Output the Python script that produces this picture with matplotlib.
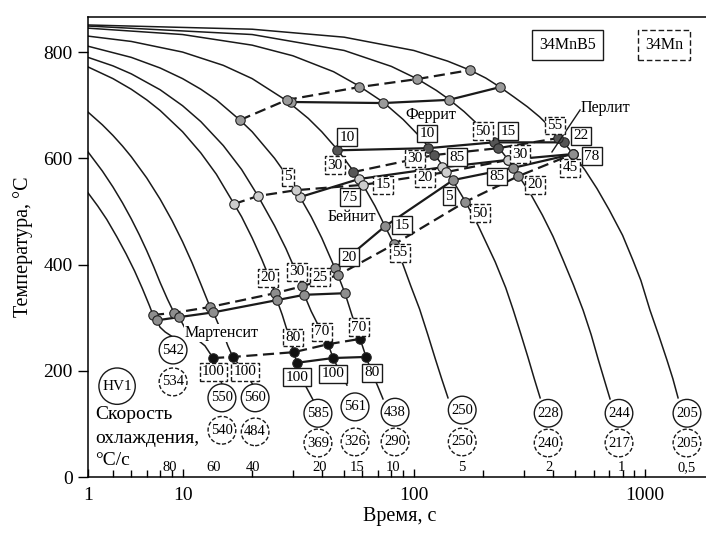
import matplotlib
matplotlib.use("Agg")
import matplotlib.pyplot as plt
from matplotlib.ticker import FixedLocator, NullFormatter

plt.rcParams["font.family"] = ["Liberation Serif", "DejaVu Serif"]

# cooling curves: time (s) / temperature (C)
t05 = [3.9, 20, 50, 100, 140, 175, 205, 236, 270, 310, 350, 400, 450, 488, 550, 620, 700, 800, 887, 960, 1051, 1150, 1245, 1320, 1390]
T05 = [851, 843, 828, 803, 783, 766, 751, 734, 716, 697, 678, 653, 628, 608, 578, 543, 503, 455, 408, 370, 314, 265, 220, 185, 149]
t1 = [3.9, 20, 50, 80, 104, 125, 142, 165, 190, 222, 240, 256, 269, 282, 320, 360, 400, 441, 490, 540, 585, 627, 670, 706]
T1 = [849, 833, 803, 773, 749, 728, 711, 688, 663, 631, 613, 597, 584, 569, 533, 493, 453, 410, 362, 314, 268, 222, 180, 147]
t2 = [3.9, 10, 20, 30, 45, 58, 73.6, 90, 105, 115, 122, 133, 139, 148, 167, 190, 225, 250, 269, 290, 312, 332, 352]
T2 = [845, 833, 813, 793, 763, 736, 706, 673, 643, 623, 609, 587, 575, 557, 519, 473, 405, 356, 315, 270, 225, 185, 149]
t5 = [3.9, 6, 10, 15, 20, 28.3, 35, 40, 46.6, 54.6, 58, 60.3, 68, 75.1, 82.2, 89.8, 97, 106, 115, 124, 132, 140.6]
T5 = [830, 820, 800, 775, 750, 708, 675, 650, 617, 577, 561, 550, 510, 472, 438, 400, 360, 316, 268, 222, 185, 149]
t10 = [3.9, 6, 8, 10, 12, 14, 17.7, 20, 25, 28.3, 31.0, 32.2, 36, 40, 45.6, 47.0, 50.4, 54, 58.6, 62.2, 66, 70, 73.6]
T10 = [811, 790, 770, 750, 730, 710, 672, 650, 600, 567, 540, 527, 490, 450, 393, 380, 346, 305, 260, 226, 196, 170, 147]
t15 = [3.9, 5, 6, 8, 10, 12, 15, 18, 21.2, 25, 28, 30, 32.9, 33.6, 36, 39, 42.6, 44.8, 48, 51.4]
T15 = [790, 774, 759, 729, 699, 669, 624, 579, 529, 473, 430, 400, 359, 343, 312, 282, 250, 224, 197, 173]
t20 = [3.9, 5, 6, 7, 8, 10, 12, 14, 16.7, 18, 20, 22, 24, 25.1, 25.6, 27, 28.7, 30.3, 31.2, 33.9, 36.7]
T20 = [772, 750, 730, 710, 690, 650, 610, 570, 514, 490, 450, 410, 370, 346, 333, 305, 268, 235, 215, 173, 145]
t40 = [3.9, 4.5, 5, 5.5, 6, 7, 8, 9, 10, 11, 12, 13.15, 13.6, 14.2, 15.1, 15.7, 16.5, 18.6, 20.0]
T40 = [687, 663, 643, 623, 603, 563, 523, 483, 443, 403, 363, 320, 310, 290, 267, 247, 226, 198, 176]
t60 = [3.9, 4.5, 5, 5.5, 6, 6.5, 7, 7.5, 8, 8.6, 9.19, 9.66, 10.25, 11.33, 12.5, 13.55, 14.2, 14.8]
T60 = [612, 576, 546, 516, 486, 456, 426, 396, 366, 335, 309, 301, 280, 262, 247, 224, 198, 175]
t80 = [3.9, 4.3, 4.7, 5.2, 5.7, 6.2, 6.7, 7.2, 7.45, 7.76, 7.99, 8.41, 8.83, 9.1]
T80 = [535, 510, 485, 452, 420, 388, 355, 322, 305, 295, 282, 273, 267, 263]

# transformation lines (S = 34MnB5 solid, D = 34Mn dashed)
DF_t = [17.7, 28.3, 58.0, 103, 175]
DF_T = [672, 710, 734, 749, 766]
SF_t = [29.5, 73.6, 142, 236]
SF_T = [706, 704, 710, 734]
SP_t = [46.6, 115, 222, 447]
SP_T = [615, 619, 630, 630]
DP_t = [54.6, 122, 231, 421]
DP_T = [574, 606, 619, 638]
SB1_t = [32.2, 58.0, 132.6, 256, 488]
SB1_T = [527, 561, 583, 597, 608]
DB1_t = [16.7, 21.2, 31.0, 60.3, 138, 256]
DB1_T = [514, 529, 540, 550, 574, 597]
SB2_t = [45.6, 75.1, 148, 269, 488]
SB2_T = [393, 472, 559, 582, 608]
DB2_t = [7.45, 9.19, 13.15, 25.1, 32.9, 47.0, 82.2, 167, 282, 488]
DB2_T = [305, 309, 320, 346, 359, 380, 438, 518, 566, 608]
SMs_t = [7.76, 9.66, 13.6, 25.6, 33.6, 50.4]
SMs_T = [295, 301, 310, 333, 343, 346]
DMf_t = [13.55, 16.5, 30.3, 42.6, 58.6]
DMf_T = [224, 226, 235, 250, 260]
SMf_t = [31.2, 44.8, 62.2]
SMf_T = [215, 224, 226]

# boxed percentages
solid_lbl = ["10", "10", "15", "22", "78", "85", "85", "5", "75", "15", "20", "80", "100", "100"]
solid_lbl_t = [51.4, 114, 256, 529, 590, 154, 229, 142, 53.0, 89, 52.5, 66, 31.3, 44.8]
solid_lbl_T = [640, 647, 651, 642, 604, 602, 566, 529, 527, 474, 414, 196, 188, 194]
dash_lbl = ["5", "30", "15", "20", "30", "50", "30", "20", "55", "45", "50", "55",
            "20", "30", "25", "80", "70", "70", "100", "100"]
dash_lbl_t = [28.6, 45.6, 73.6, 112, 101, 199, 288, 334, 408, 474, 193, 87.2,
              23.4, 31.3, 39.3, 30.1, 40.1, 58.0, 13.6, 18.6]
dash_lbl_T = [565, 587, 550, 563, 600, 651, 608, 550, 662, 582, 497, 422,
              375, 386, 376, 263, 273, 282, 198, 198]

# hardness HV1
hv_solid = [542, 550, 560, 585, 561, 438, 250, 228, 244, 205]
hv_dashed = [534, 540, 484, 369, 326, 290, 250, 240, 217, 205]
hv_t = [9.1, 14.8, 20.6, 38.5, 55.7, 83, 162, 381, 772, 1519]
hv_T_solid = [239, 149, 149, 120, 132, 122, 126, 120, 120, 120]
hv_T_dashed = [179, 88, 85, 64, 66, 66, 66, 64, 64, 64]

rate_labels = ["80", "60", "40", "20", "15", "10", "5", "2", "1", "0,5"]
rate_t = [8.83, 13.6, 20.2, 39.3, 57, 81, 162, 383, 793, 1519]

fig = plt.figure(figsize=(7.06, 5.34), dpi=100)
ax = fig.add_axes([88 / 706, 57 / 534, 618 / 706, 460 / 534])
ax.set_xscale("log")
ax.set_xlim(3.9, 1836)
ax.set_ylim(0, 866)

curves = [(t05, T05), (t1, T1), (t2, T2), (t5, T5), (t10, T10), (t15, T15),
          (t20, T20), (t40, T40), (t60, T60), (t80, T80)]
for t, T in curves:
    ax.plot(t, T, color="#1a1a1a", lw=1.1, zorder=2)

dash = (0, (5, 2.5))
lines = [
    (SF_t, SF_T, "-", "#9a9a9a"),
    (DF_t, DF_T, dash, "#9a9a9a"),
    (SP_t, SP_T, "-", "#555555"),
    (DP_t, DP_T, dash, "#555555"),
    (SB1_t, SB1_T, "-", "#cdcdcd"),
    (DB1_t, DB1_T, dash, "#cdcdcd"),
    (SB2_t, SB2_T, "-", "#8e8e8e"),
    (DB2_t, DB2_T, dash, "#8e8e8e"),
    (SMs_t, SMs_T, "-", "#8e8e8e"),
    (DMf_t, DMf_T, dash, "#111111"),
    (SMf_t, SMf_T, "-", "#111111"),
]
for t, T, ls, fc in lines:
    ax.plot(t, T, color="#1a1a1a", lw=1.6, ls=ls, zorder=3)
    ax.plot(t, T, ls="none", marker="o", ms=6.8, mfc=fc, mec="#222222", mew=0.8, zorder=4)

for s, x, y in zip(solid_lbl, solid_lbl_t, solid_lbl_T):
    ax.text(x, y, s, fontsize=11, ha="center", va="center", zorder=6,
            bbox=dict(boxstyle="square,pad=0.15", fc="white", ec="#1a1a1a", lw=1.0))
for s, x, y in zip(dash_lbl, dash_lbl_t, dash_lbl_T):
    ax.text(x, y, s, fontsize=11, ha="center", va="center", zorder=6,
            bbox=dict(boxstyle="square,pad=0.15", fc="white", ec="#1a1a1a", lw=1.0, ls=(0, (3, 1.5))))

for v, x, y in zip(hv_solid, hv_t, hv_T_solid):
    ax.text(x, y, str(v), fontsize=10.5, ha="center", va="center", zorder=6,
            bbox=dict(boxstyle="circle,pad=0.2", fc="white", ec="#1a1a1a", lw=1.0))
for v, x, y in zip(hv_dashed, hv_t, hv_T_dashed):
    ax.text(x, y, str(v), fontsize=10.5, ha="center", va="center", zorder=6,
            bbox=dict(boxstyle="circle,pad=0.2", fc="white", ec="#1a1a1a", lw=1.0, ls=(0, (3, 1.5))))

for s, x in zip(rate_labels, rate_t):
    ax.text(x, 17, s, fontsize=10.5, ha="center", va="center")

ax.text(5.21, 171, "HV1", fontsize=11, ha="center", va="center",
        bbox=dict(boxstyle="circle,pad=0.22", fc="white", ec="#1a1a1a", lw=1.0))
ax.text(4.18, 117, "Скорость", fontsize=14, ha="left", va="center")
ax.text(4.18, 72, "охлаждения,", fontsize=14, ha="left", va="center")
ax.text(4.18, 32, "°С/с", fontsize=14, ha="left", va="center")

ax.text(118.7, 681, "Феррит", fontsize=11.5, ha="center", va="center")
ax.text(671, 694, "Перлит", fontsize=11.5, ha="center", va="center")
ax.text(54.1, 489, "Бейнит", fontsize=11.5, ha="center", va="center")
ax.text(14.8, 271, "Мартенсит", fontsize=11.5, ha="center", va="center", zorder=5,
        bbox=dict(boxstyle="square,pad=0.05", fc="white", ec="none"))
ax.plot([524, 396], [691, 612], color="#1a1a1a", lw=1.0, zorder=5)

ax.text(464, 813, "34MnB5", fontsize=11.5, ha="center", va="center",
        bbox=dict(boxstyle="square,pad=0.45", fc="white", ec="#1a1a1a", lw=1.0))
ax.text(1209, 813, "34Mn", fontsize=11.5, ha="center", va="center",
        bbox=dict(boxstyle="square,pad=0.45", fc="white", ec="#1a1a1a", lw=1.0, ls=(0, (4, 2))))

ax.xaxis.set_major_locator(FixedLocator([3.9, 10, 100, 1000]))
ax.set_xticklabels(["1", "10", "100", "1000"])
ax.xaxis.set_minor_locator(FixedLocator([5, 6, 7, 8, 9, 20, 30, 40, 50, 60, 70, 80, 90,
                                         200, 300, 400, 500, 600, 700, 800, 900]))
ax.xaxis.set_minor_formatter(NullFormatter())
ax.set_yticks([0, 200, 400, 600, 800])
ax.tick_params(axis="x", which="major", direction="in", length=6, width=1.0, labelsize=14, pad=7)
ax.tick_params(axis="x", which="minor", direction="in", length=5, width=1.0)
ax.tick_params(axis="y", direction="out", length=7, width=1.0, labelsize=14, pad=4)
ax.spines["right"].set_visible(False)
for sp in ["left", "bottom", "top"]:
    ax.spines[sp].set_linewidth(1.1)

fig.text(400 / 706, 1 - 517 / 534, "Время, с", fontsize=14.5, ha="center", va="center")
fig.text(23 / 706, 1 - 247 / 534, "Температура, °С", fontsize=14.5, ha="center", va="center", rotation=90)

plt.savefig("out.png", dpi=100)
